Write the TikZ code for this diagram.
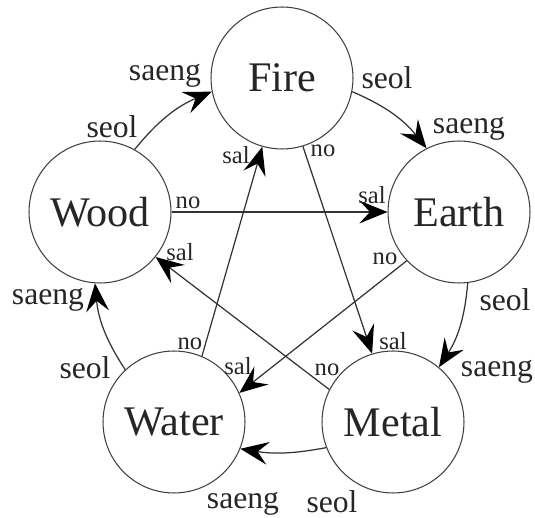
\documentclass[tikz,border=0pt]{standalone}
\usepackage{fontspec}
\setmainfont{Liberation Serif}
\usepackage{tikz}
\usetikzlibrary{arrows.meta,positioning}

\begin{document}
\begin{tikzpicture}[x=0.02cm,y=0.02cm,
  element/.style={draw=black!75,circle,line width=0.6pt,minimum size=2.84cm,inner sep=0pt,text=black!85,font=\fontsize{24}{28}\selectfont},
  flow/.style={->,draw=black!80,line width=0.7pt},
  >={Stealth[length=16pt,width=13pt,inset=6pt,black]},
  cyc/.style={inner sep=0pt,text=black!85,font=\fontsize{18}{22}\selectfont},
  ctl/.style={inner sep=0pt,text=black!85,font=\fontsize{14}{17}\selectfont}]
  \useasboundingbox (0,0) rectangle (535,518);
  % the five elements
  \node[element] (fire) at (282,440) {Fire};
  \node[element] (wood) at (100,306) {Wood};
  \node[element] (earth) at (459,306) {Earth};
  \node[element] (water) at (174,96) {Water};
  \node[element] (metal) at (393,96) {Metal};
  % outer cycle
  \draw[flow] (wood.61) to[bend left=14] (fire.191);
  \draw[flow] (fire.349) to[bend left=14] (earth.117);
  \draw[flow] (earth.277) to[bend left=14] (metal.50);
  \draw[flow] (metal.201) to[bend left=10] (water.338);
  \draw[flow] (water.133) to[bend left=14] (wood.266);
  % inner star
  \draw[flow] (wood.0) -- (earth.180);
  \draw[flow] (fire.287) -- (metal.107);
  \draw[flow] (earth.223) -- (water.24);
  \draw[flow] (metal.153) -- (wood.321);
  \draw[flow] (water.67) -- (fire.254);
  % outer labels
  \node[cyc] (wf-seol) at (112,391) {seol};
  \node[cyc] (wf-saeng) at (165,442) {saeng};
  \node[cyc] (fe-seol) at (387,440) {seol};
  \node[cyc] (fe-saeng) at (469,389) {saeng};
  \node[cyc] (em-seol) at (505,218) {seol};
  \node[cyc] (em-saeng) at (497,146) {saeng};
  \node[cyc] (mw-seol) at (332,16) {seol};
  \node[cyc] (mw-saeng) at (243,14) {saeng};
  \node[cyc] (ww-seol) at (85,150) {seol};
  \node[cyc] (ww-saeng) at (48,218) {saeng};
  % star labels
  \node[ctl] (we-no) at (188,315) {no};
  \node[ctl] (we-sal) at (372,323) {sal};
  \node[ctl] (fm-no) at (323,367) {no};
  \node[ctl] (fm-sal) at (393,177) {sal};
  \node[ctl] (ew-no) at (385,259) {no};
  \node[ctl] (ew-sal) at (238,152) {sal};
  \node[ctl] (mo-no) at (327,148) {no};
  \node[ctl] (mo-sal) at (180,266) {sal};
  \node[ctl] (wa-no) at (190,174) {no};
  \node[ctl] (wa-sal) at (236,363) {sal};
\end{tikzpicture}
\end{document}
